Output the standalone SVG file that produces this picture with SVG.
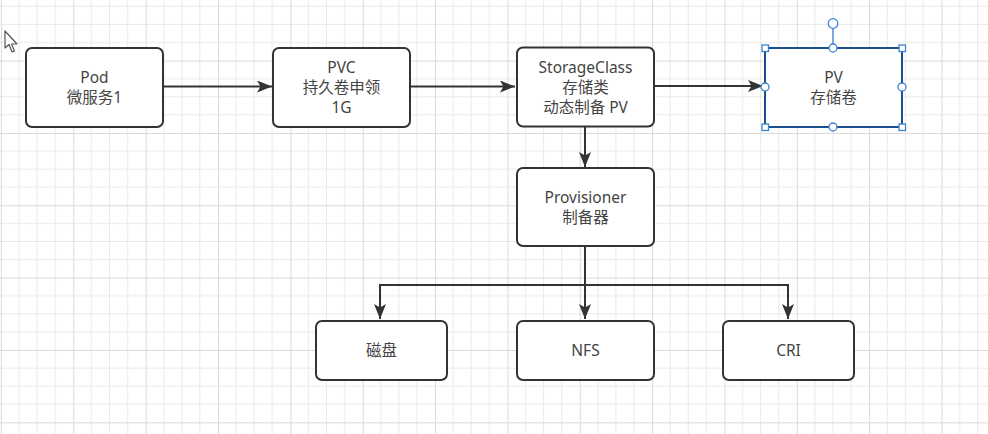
<svg xmlns="http://www.w3.org/2000/svg" width="988" height="434" viewBox="0 0 988 434">
<defs>
<pattern id="grid" x="0.95" y="60.6" width="72.35" height="72.35" patternUnits="userSpaceOnUse">
<path d="M18.09,0V72.35M36.18,0V72.35M54.26,0V72.35M0,18.09H72.35M0,36.18H72.35M0,54.26H72.35" stroke="#e9e9e9" stroke-width="1" fill="none"/>
<path d="M0.5,0V72.35M0,0.5H72.35" stroke="#dadada" stroke-width="1" fill="none"/>
</pattern>
<marker id="arr" viewBox="0 0 15 12" refX="15" refY="6" markerWidth="15" markerHeight="12" markerUnits="userSpaceOnUse" orient="auto">
<path d="M0,0 L15,6 L0,12 L3.5,6 z" fill="#333"/>
</marker>
<style>
.box{fill:#fff;stroke:#333;stroke-width:2}
.sel{fill:#fff;stroke:#1b4f8c;stroke-width:2}
.t{font-family:"Noto Sans","Noto Sans CJK SC",sans-serif;font-size:15.5px;fill:#444;text-anchor:middle}
.c{fill:none;stroke:#333;stroke-width:2}
.h{fill:#fff;stroke:#3b82d0;stroke-width:1.3}
</style>
</defs>
<rect width="988" height="434" fill="#fff"/>
<rect width="988" height="434" fill="url(#grid)"/>
<g id="cursor">
<path d="M5,31 L5,48 L9,44.5 L12,52 L14.5,51 L11.5,44 L17,44 Z" fill="#fff" stroke="#555" stroke-width="1.2" stroke-linejoin="round"/>
</g>
<g id="connectors">
<path class="c" d="M163,86.5 H272" marker-end="url(#arr)"/>
<path class="c" d="M410,86.5 H515" marker-end="url(#arr)"/>
<path class="c" d="M654,86 H763" marker-end="url(#arr)"/>
<path class="c" d="M585,127 V167" marker-end="url(#arr)"/>
<path class="c" d="M585,246 V285 H380 V319" marker-end="url(#arr)"/>
<path class="c" d="M585,285 V319" marker-end="url(#arr)"/>
<path class="c" d="M585,285 H788 V319" marker-end="url(#arr)"/>
</g>
<g id="pod">
<rect class="box" x="26" y="48" width="137" height="79" rx="6"/>
<text class="t" x="94.5" y="83">Pod</text>
<text class="t" x="94.5" y="103">微服务1</text>
</g>
<g id="pvc">
<rect class="box" x="273" y="48" width="137" height="79" rx="6"/>
<text class="t" x="341.5" y="73">PVC</text>
<text class="t" x="341.5" y="93">持久卷申领</text>
<text class="t" x="341.5" y="113">1G</text>
</g>
<g id="storageclass">
<rect class="box" x="517" y="47.5" width="137" height="79" rx="6"/>
<text class="t" x="585.5" y="73">StorageClass</text>
<text class="t" x="585.5" y="93">存储类</text>
<text class="t" x="585.5" y="113">动态制备 PV</text>
</g>
<g id="pv">
<rect class="sel" x="765" y="48" width="137" height="79"/>
<text class="t" x="833.5" y="83">PV</text>
<text class="t" x="833.5" y="103">存储卷</text>
<line x1="833" y1="28.5" x2="833" y2="44" stroke="#3b82d0" stroke-width="1.3"/>
<circle class="h" cx="833" cy="23.5" r="4.8"/>
<rect class="h" x="762" y="45" width="6.5" height="6.5"/>
<rect class="h" x="899" y="45" width="6.5" height="6.5"/>
<rect class="h" x="762" y="124" width="6.5" height="6.5"/>
<rect class="h" x="899" y="124" width="6.5" height="6.5"/>
<circle class="h" cx="833" cy="48" r="4"/>
<circle class="h" cx="833" cy="127" r="4"/>
<circle class="h" cx="765" cy="87" r="4"/>
<circle class="h" cx="902" cy="87" r="4"/>
</g>
<g id="provisioner">
<rect class="box" x="517" y="168" width="137" height="78" rx="6"/>
<text class="t" x="585.5" y="203">Provisioner</text>
<text class="t" x="585.5" y="223">制备器</text>
</g>
<g id="disk">
<rect class="box" x="316" y="321" width="131" height="59" rx="6"/>
<text class="t" x="381.5" y="356">磁盘</text>
</g>
<g id="nfs">
<rect class="box" x="517" y="321" width="137" height="59" rx="6"/>
<text class="t" x="585.5" y="356">NFS</text>
</g>
<g id="cri">
<rect class="box" x="723" y="321" width="131" height="59" rx="6"/>
<text class="t" x="788.5" y="356">CRI</text>
</g>
</svg>
